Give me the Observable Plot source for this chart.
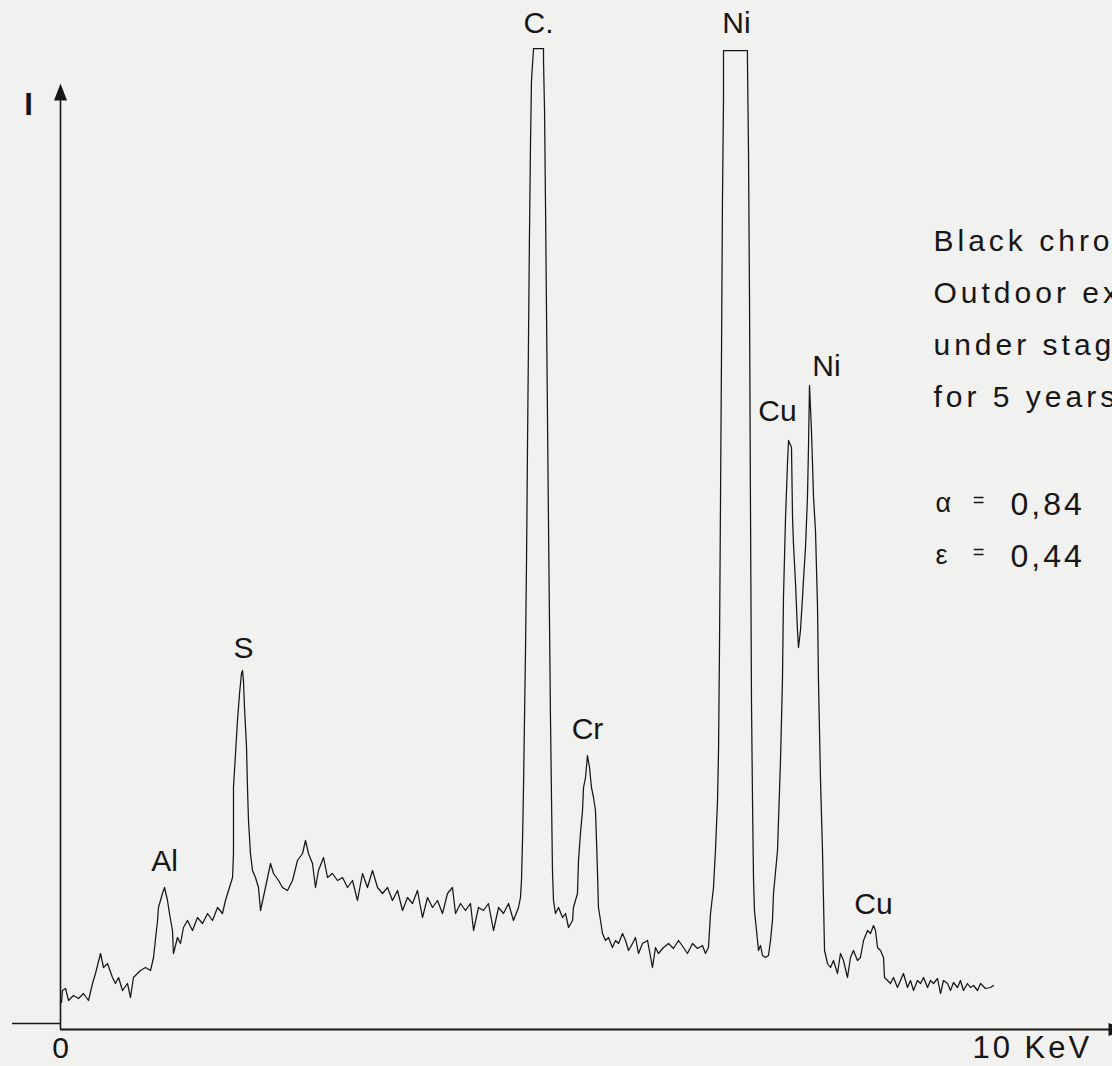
<!DOCTYPE html>
<html>
<head>
<meta charset="utf-8">
<script src="https://cdn.jsdelivr.net/npm/d3@7"></script>
<script src="https://cdn.jsdelivr.net/npm/@observablehq/plot@0.6"></script>
<style>
  html, body { margin: 0; padding: 0; background: #f1f1ef; }
  #chart svg { display: block; }
</style>
</head>
<body>
<div id="chart"></div>
<script>
// EDX spectrum of a black chrome absorber: photon energy (keV) against intensity (arbitrary units)
const energyKeV = [
  0.011,0.021,0.054,0.086,0.139,0.193,0.247,0.300,0.343,0.375,
  0.429,0.461,0.504,0.557,0.589,0.622,0.665,0.718,0.750,0.782,
  0.857,0.911,0.965,0.997,1.040,1.050,1.093,1.115,1.147,1.168,
  1.200,1.211,1.254,1.286,1.318,1.361,1.415,1.468,1.522,1.576,
  1.629,1.683,1.736,1.768,1.801,1.844,1.854,1.854,1.876,1.897,
  1.919,1.940,1.951,1.961,1.972,1.994,2.004,2.015,2.036,2.058,
  2.090,2.122,2.144,2.197,2.251,2.283,2.337,2.379,2.433,2.487,
  2.540,2.594,2.626,2.658,2.701,2.733,2.765,2.819,2.862,2.915,
  2.969,3.023,3.076,3.130,3.183,3.237,3.290,3.344,3.398,3.451,
  3.505,3.558,3.612,3.666,3.719,3.773,3.826,3.880,3.934,3.987,
  4.041,4.094,4.148,4.201,4.234,4.287,4.341,4.394,4.427,4.480,
  4.534,4.587,4.641,4.695,4.748,4.802,4.855,4.909,4.930,
  4.941,4.952,4.962,4.973,4.984,4.995,5.005,5.016,5.027,5.038,5.048,5.070,
  5.177,5.177,5.188,5.198,5.209,5.220,5.230,5.241,5.252,5.263,5.273,5.284,
  5.305,5.338,5.381,5.413,5.445,5.488,5.498,5.541,5.552,5.573,
  5.595,5.606,5.627,5.648,5.670,5.691,5.713,5.734,5.745,5.756,
  5.766,5.788,5.809,5.841,5.873,5.916,5.949,5.981,6.024,6.056,
  6.088,6.131,6.163,6.195,6.238,6.292,6.345,6.377,6.409,6.463,
  6.517,6.570,6.624,6.677,6.720,6.774,6.827,6.881,6.913,6.945,
  6.967,6.999,7.020,7.042,7.053,7.063,7.074,7.085,7.095,7.106,
  7.106,7.363,7.363,7.374,7.385,7.395,7.406,7.417,7.428,7.438,
  7.460,7.481,7.503,7.524,7.556,7.588,7.610,7.631,7.642,7.685,
  7.717,7.738,7.749,7.771,7.792,7.803,7.835,7.846,7.856,7.878,
  7.899,7.910,7.931,7.953,7.963,7.985,8.006,8.017,8.028,8.049,
  8.060,8.071,8.092,8.114,8.124,8.146,8.167,8.178,8.189,8.221,
  8.253,8.285,8.328,8.360,8.392,8.435,8.467,8.499,8.542,8.574,
  8.607,8.650,8.682,8.714,8.735,8.757,8.789,8.821,8.832,8.864,
  8.896,8.928,8.971,9.003,9.035,9.078,9.110,9.143,9.185,9.218,
  9.250,9.293,9.325,9.357,9.400,9.432,9.464,9.507,9.539,9.571,
  9.614,9.646,9.678,9.721,9.753,9.786,9.829,9.861,9.914,9.968,
  10.000
];

const counts = [
  2.7,3.9,4.1,2.9,3.4,3.1,3.6,2.9,4.6,5.6,
  7.6,6.2,6.6,5.2,4.6,5.2,3.9,4.6,3.2,5.2,
  5.9,6.2,5.9,7.2,10.9,12.2,13.6,14.2,12.9,11.6,
  9.9,7.6,9.2,8.6,10.2,10.9,9.9,11.2,10.6,11.6,
  10.9,12.2,11.6,12.9,13.9,15.2,17.6,24.2,27.6,30.9,
  33.6,35.6,35.9,34.9,32.2,28.2,24.2,20.9,17.6,15.9,
  15.2,14.2,11.9,14.2,16.6,15.6,14.9,14.2,13.9,14.9,
  16.9,17.6,18.9,17.6,16.6,14.2,15.9,17.2,15.2,15.6,
  14.9,15.2,14.2,14.9,12.9,15.6,14.2,15.9,14.2,13.6,
  14.2,12.9,13.9,11.9,13.2,12.6,13.9,11.2,13.2,12.2,
  12.9,11.6,13.6,14.2,11.6,12.6,11.9,12.6,9.9,12.2,
  11.9,12.6,9.9,12.2,11.6,12.6,10.9,12.2,13.2,
  14.9,18.9,23.9,30.9,37.9,46.9,57.9,68.9,79.9,88.9,94.9,98.1,
  98.1,96.9,91.9,82.9,71.9,60.9,50.9,40.9,30.9,22.9,15.9,12.9,
  11.6,12.2,11.2,11.6,10.2,10.9,12.2,13.6,16.9,19.6,
  21.9,24.2,25.2,27.4,26.2,24.2,23.2,21.9,18.9,15.6,
  12.2,10.9,9.6,8.9,9.2,8.2,8.9,8.6,9.6,8.9,
  7.9,8.6,9.2,7.6,8.6,8.9,6.2,8.2,7.6,8.2,
  8.6,8.1,8.9,8.2,7.6,8.6,8.1,8.4,7.6,8.2,
  11.6,14.2,17.9,22.9,27.9,37.9,52.9,67.9,82.9,92.9,
  97.9,97.9,96.9,87.9,72.9,52.9,32.9,22.9,14.9,11.9,
  9.9,7.9,8.4,7.4,7.2,7.4,8.9,10.9,13.6,17.9,
  26.9,34.9,43.2,51.2,56.6,58.9,58.2,51.2,48.6,44.6,
  39.9,38.2,39.9,43.2,44.9,48.2,53.2,58.2,64.4,59.9,
  56.6,53.2,49.9,42.2,34.9,24.9,17.9,12.9,7.9,6.6,
  6.2,6.9,5.6,7.6,6.9,5.2,7.2,7.9,6.9,7.2,
  8.9,9.9,9.6,10.4,9.9,8.2,7.9,7.2,5.2,4.9,
  4.6,5.2,4.2,4.9,5.6,4.2,4.9,3.9,4.9,4.6,
  5.2,4.2,4.9,4.6,5.1,3.6,4.9,4.6,3.9,4.7,
  4.2,4.9,3.9,4.6,4.2,4.4,3.9,4.6,4.1,4.2,
  4.4
];

// Identified emission lines
const peakElements = ["Al", "S", "C.", "Cr", "Ni", "Cu", "Ni", "Cu"];
const peakEnergies = [1.115, 1.951, 5.123, 5.648, 7.235, 7.803, 8.028, 8.714];

// Axis end labels
const axisTickEnergies = [0, 10];
const axisTickLabels = ["0", "10 KeV"];
const intensityLabel = "I";

// Sample description and optical properties
const noteLines = ["Black chrome", "Outdoor exposure", "under stagnation", "for 5 years"];
const propertySymbols = ["α", "ε"];
const propertyValues = ["0,84", "0,44"];

const trace = energyKeV.map((e, i) => ({energy: e, count: counts[i]}));

// intensity of the trace at a given energy (linear between samples)
const bisect = d3.bisector(d => d.energy).left;
function traceAt(e) {
  const i = Math.max(1, Math.min(trace.length - 1, bisect(trace, e)));
  const a = trace[i - 1], b = trace[i];
  const t = b.energy === a.energy ? 1 : (e - a.energy) / (b.energy - a.energy);
  return a.count + t * (b.count - a.count);
}

const peaks = peakElements.map((name, i) => ({
  name, energy: peakEnergies[i], top: traceAt(peakEnergies[i])
}));
// label offsets in pixels above each peak; the Cu/Ni pair is pushed apart
const labelOffsets = [[0, -26], [1, -22], [0, -25], [0, -26], [1, -27], [-11, -29], [17, -19], [0, -21]];

const font = "'Liberation Sans', Arial, Helvetica, sans-serif";
const ink = "#161616";

// arrowhead pointing up, tip at the anchor point
const arrowHead = {
  draw(ctx) {
    ctx.moveTo(0, 0);
    ctx.lineTo(-6.5, 17);
    ctx.lineTo(6.5, 17);
    ctx.closePath();
  }
};

const xMax = 11.415;   // end of the energy axis arrow
const yTop = 94.6;     // end of the intensity axis arrow

// one row per optical property: symbol, "=" and value
const propertyMarks = propertySymbols.flatMap((sym, i) => {
  const dy = 492 + i * 52;
  return [
    Plot.text([sym], {frameAnchor: "top-left", text: d => d, dx: 875, dy, fontSize: 27, fill: ink, textAnchor: "start"}),
    Plot.text(["="], {frameAnchor: "top-left", text: d => d, dx: 918, dy, fontSize: 20, fill: ink, textAnchor: "middle"}),
    Plot.text([propertyValues[i]], {frameAnchor: "top-left", text: d => d, dx: 950, dy, fontSize: 32, fill: ink, textAnchor: "start"})
  ];
});

const chart = Plot.plot({
  width: 1112,
  height: 1066,
  marginLeft: 60,
  marginRight: 119,
  marginTop: 0,
  marginBottom: 37,
  x: {domain: [0, 10], axis: null},
  y: {domain: [0, 102.9], axis: null},
  style: {background: "#f1f1ef", fontFamily: font, color: ink, overflow: "visible"},
  marks: [
    // axes
    Plot.ruleX([0], {y1: 0, y2: yTop - 1, stroke: ink, strokeWidth: 1.6}),
    Plot.ruleY([0], {x1: 0, x2: xMax - 0.1, stroke: ink, strokeWidth: 1.9}),
    Plot.ruleY([0.6], {x1: -0.514, x2: 0, stroke: ink, strokeWidth: 1.6}),
    Plot.dot([{x: 0, y: yTop}], {x: "x", y: "y", symbol: arrowHead, fill: ink, stroke: "none", r: 5}),
    Plot.dot([{x: xMax, y: 0}], {x: "x", y: "y", symbol: arrowHead, fill: ink, stroke: "none", r: 5, rotate: 90}),

    // spectrum trace
    Plot.line(trace, {x: "energy", y: "count", stroke: ink, strokeWidth: 1.25, strokeLinejoin: "round", curve: "linear"}),

    // element labels
    ...peaks.map((p, i) => Plot.text([p], {
      x: "energy", y: "top", text: "name",
      dx: labelOffsets[i][0], dy: labelOffsets[i][1],
      fontSize: 30, fill: ink, textAnchor: "middle"
    })),

    // axis labels
    Plot.text([axisTickEnergies[0]], {x: d => d, y: () => 0, text: () => axisTickLabels[0],
      dy: 19, fontSize: 30, fill: ink, textAnchor: "middle"}),
    Plot.text([axisTickEnergies[1]], {x: d => d, y: () => 0, text: () => axisTickLabels[1],
      dx: -21, dy: 19, fontSize: 31, fill: ink, textAnchor: "start"}),
    Plot.text([intensityLabel], {frameAnchor: "top-left", text: d => d, dx: -32, dy: 92,
      fontSize: 31, fontWeight: "bold", fill: ink, textAnchor: "middle"}),

    // sample note
    Plot.text([noteLines.join("\n")], {frameAnchor: "top-left", text: d => d, dx: 873, dy: 214,
      lineAnchor: "top", lineHeight: 1.73, fontSize: 30, fill: ink, textAnchor: "start"}),
    ...propertyMarks
  ]
});

// typewriter-like letter spacing for the lettering of the note and the energy label
const spacing = new Map([[noteLines[0], 4], [axisTickLabels[1], 3], ...propertyValues.map(v => [v, 3])]);
d3.select(chart).selectAll("text").each(function() {
  for (const [s, ls] of spacing) {
    if (this.textContent.startsWith(s)) d3.select(this).attr("letter-spacing", ls);
  }
});

document.getElementById("chart").appendChild(chart);
</script>
</body>
</html>
